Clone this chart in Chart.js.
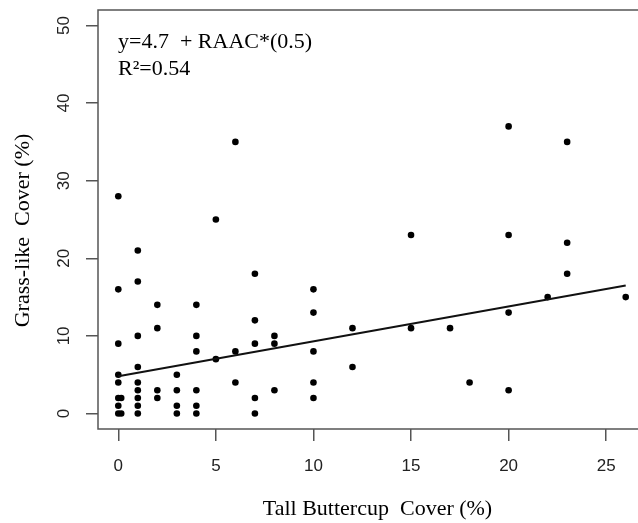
<!DOCTYPE html>
<html>
<head>
<meta charset="utf-8">
<script src="https://cdn.jsdelivr.net/npm/chart.js@4/dist/chart.umd.min.js"></script>
<style>
  html, body { margin: 0; padding: 0; background: #fff; overflow: hidden; }
  #wrap { position: relative; width: 650px; height: 523px; }
</style>
</head>
<body>
<div id="wrap"><canvas id="chart-scatter"></canvas></div>
<script>
// tall buttercup cover (x) vs grass-like cover (y)
const buttercup = [
  0, 0, 0, 0, 0, 0, 0, 0, 0.15, 0.15,
  1, 1, 1, 1, 1, 1, 1, 1, 1,
  2, 2, 2, 2,
  3, 3, 3, 3,
  4, 4, 4, 4, 4, 4,
  5, 5,
  6, 6, 6,
  7, 7, 7, 7, 7,
  8, 8, 8,
  10, 10, 10, 10, 10,
  12, 12,
  15, 15,
  17, 18,
  20, 20, 20, 20,
  22, 23, 23, 23,
  26
];
const grassLike = [
  28, 16, 9, 5, 4, 2, 1, 0, 0, 2,
  21, 17, 10, 6, 4, 3, 2, 1, 0,
  14, 11, 3, 2,
  5, 3, 1, 0,
  14, 10, 8, 3, 1, 0,
  25, 7,
  35, 8, 4,
  18, 12, 9, 2, 0,
  10, 9, 3,
  16, 13, 8, 4, 2,
  11, 6,
  23, 11,
  11, 4,
  37, 23, 13, 3,
  15, 35, 22, 18,
  15
];
// fitted line end points
const fitX = [0, 26];
const fitY = [4.8, 16.5];

const xTicks = [0, 5, 10, 15, 20, 25];
const yTicks = [0, 10, 20, 30, 40, 50];
const equationText = "y=4.7  + RAAC*(0.5)";
const r2Text = "R\u00B2=0.54";

document.addEventListener("DOMContentLoaded", () => {
  renderScatter();
});

/** box, rotated y labels, equation text */
const boxPlugin = {
  id: "rBox",
  afterDraw(chart) {
    const { ctx, chartArea: a, scales } = chart;
    ctx.save();
    ctx.strokeStyle = "#555";
    ctx.lineWidth = 1.5;
    ctx.strokeRect(a.left, a.top, a.right - a.left, a.bottom - a.top);

    // y tick labels, turned like in R
    ctx.fillStyle = "#222";
    ctx.font = "17px 'Liberation Sans', Arial, sans-serif";
    ctx.textAlign = "center";
    ctx.textBaseline = "middle";
    yTicks.forEach((v) => {
      const py = scales.y.getPixelForValue(v);
      ctx.save();
      ctx.translate(64, py);
      ctx.rotate(-Math.PI / 2);
      ctx.fillText(String(v), 0, 0);
      ctx.restore();
    });

    // equation
    ctx.fillStyle = "#000";
    ctx.font = "22px 'Liberation Serif', 'Times New Roman', serif";
    ctx.textAlign = "left";
    ctx.textBaseline = "alphabetic";
    ctx.fillText(equationText, 118, 48);
    ctx.fillText(r2Text, 118, 75);
    ctx.restore();
  },
};

function renderScatter() {
  const canvas = document.getElementById("chart-scatter");
  const points = buttercup.map((x, i) => ({ x, y: grassLike[i] }));
  const fit = fitX.map((x, i) => ({ x, y: fitY[i] }));

  new Chart(canvas.getContext("2d"), {
    type: "scatter",
    data: {
      datasets: [
        {
          label: "fit",
          type: "line",
          data: fit,
          borderColor: "#111",
          borderWidth: 2,
          pointRadius: 0,
          fill: false,
        },
        {
          label: "plots",
          data: points,
          backgroundColor: "#000",
          borderColor: "#000",
          pointRadius: 3.3,
          borderWidth: 0,
        },
      ],
    },
    options: {
      responsive: true,
      maintainAspectRatio: false,
      animation: false,
      layout: { padding: { top: 10, right: 4, left: 0, bottom: 0 } },
      plugins: {
        legend: { display: false },
        tooltip: { enabled: false },
      },
      scales: {
        x: {
          type: "linear",
          min: -1.04,
          max: 27.04,
          afterBuildTicks: (s) => { s.ticks = xTicks.map((v) => ({ value: v })); },
          afterFit: (s) => { s.height = 94; },
          grid: {
            drawOnChartArea: false,
            drawTicks: true,
            tickLength: 12,
            color: "#555",
            lineWidth: 1.5,
          },
          border: { display: false },
          ticks: {
            color: "#222",
            padding: 15,
            font: { family: "'Liberation Sans', Arial, sans-serif", size: 17 },
          },
          title: {
            display: true,
            text: "  Tall Buttercup  Cover (%)",
            color: "#000",
            font: { family: "'Liberation Serif', 'Times New Roman', serif", size: 22 },
            padding: { top: 0, bottom: 1 },
          },
        },
        y: {
          type: "linear",
          min: -2,
          max: 52,
          afterBuildTicks: (s) => { s.ticks = yTicks.map((v) => ({ value: v })); },
          afterFit: (s) => { s.width = 98; },
          grid: {
            drawOnChartArea: false,
            drawTicks: true,
            tickLength: 12,
            color: "#555",
            lineWidth: 1.5,
          },
          border: { display: false },
          ticks: { display: false },
          title: {
            display: true,
            text: "Grass-like  Cover (%)    ",
            color: "#000",
            font: { family: "'Liberation Serif', 'Times New Roman', serif", size: 22 },
            padding: { top: 10, bottom: 0 },
          },
        },
      },
    },
    plugins: [boxPlugin],
  });
}
</script>
</body>
</html>
